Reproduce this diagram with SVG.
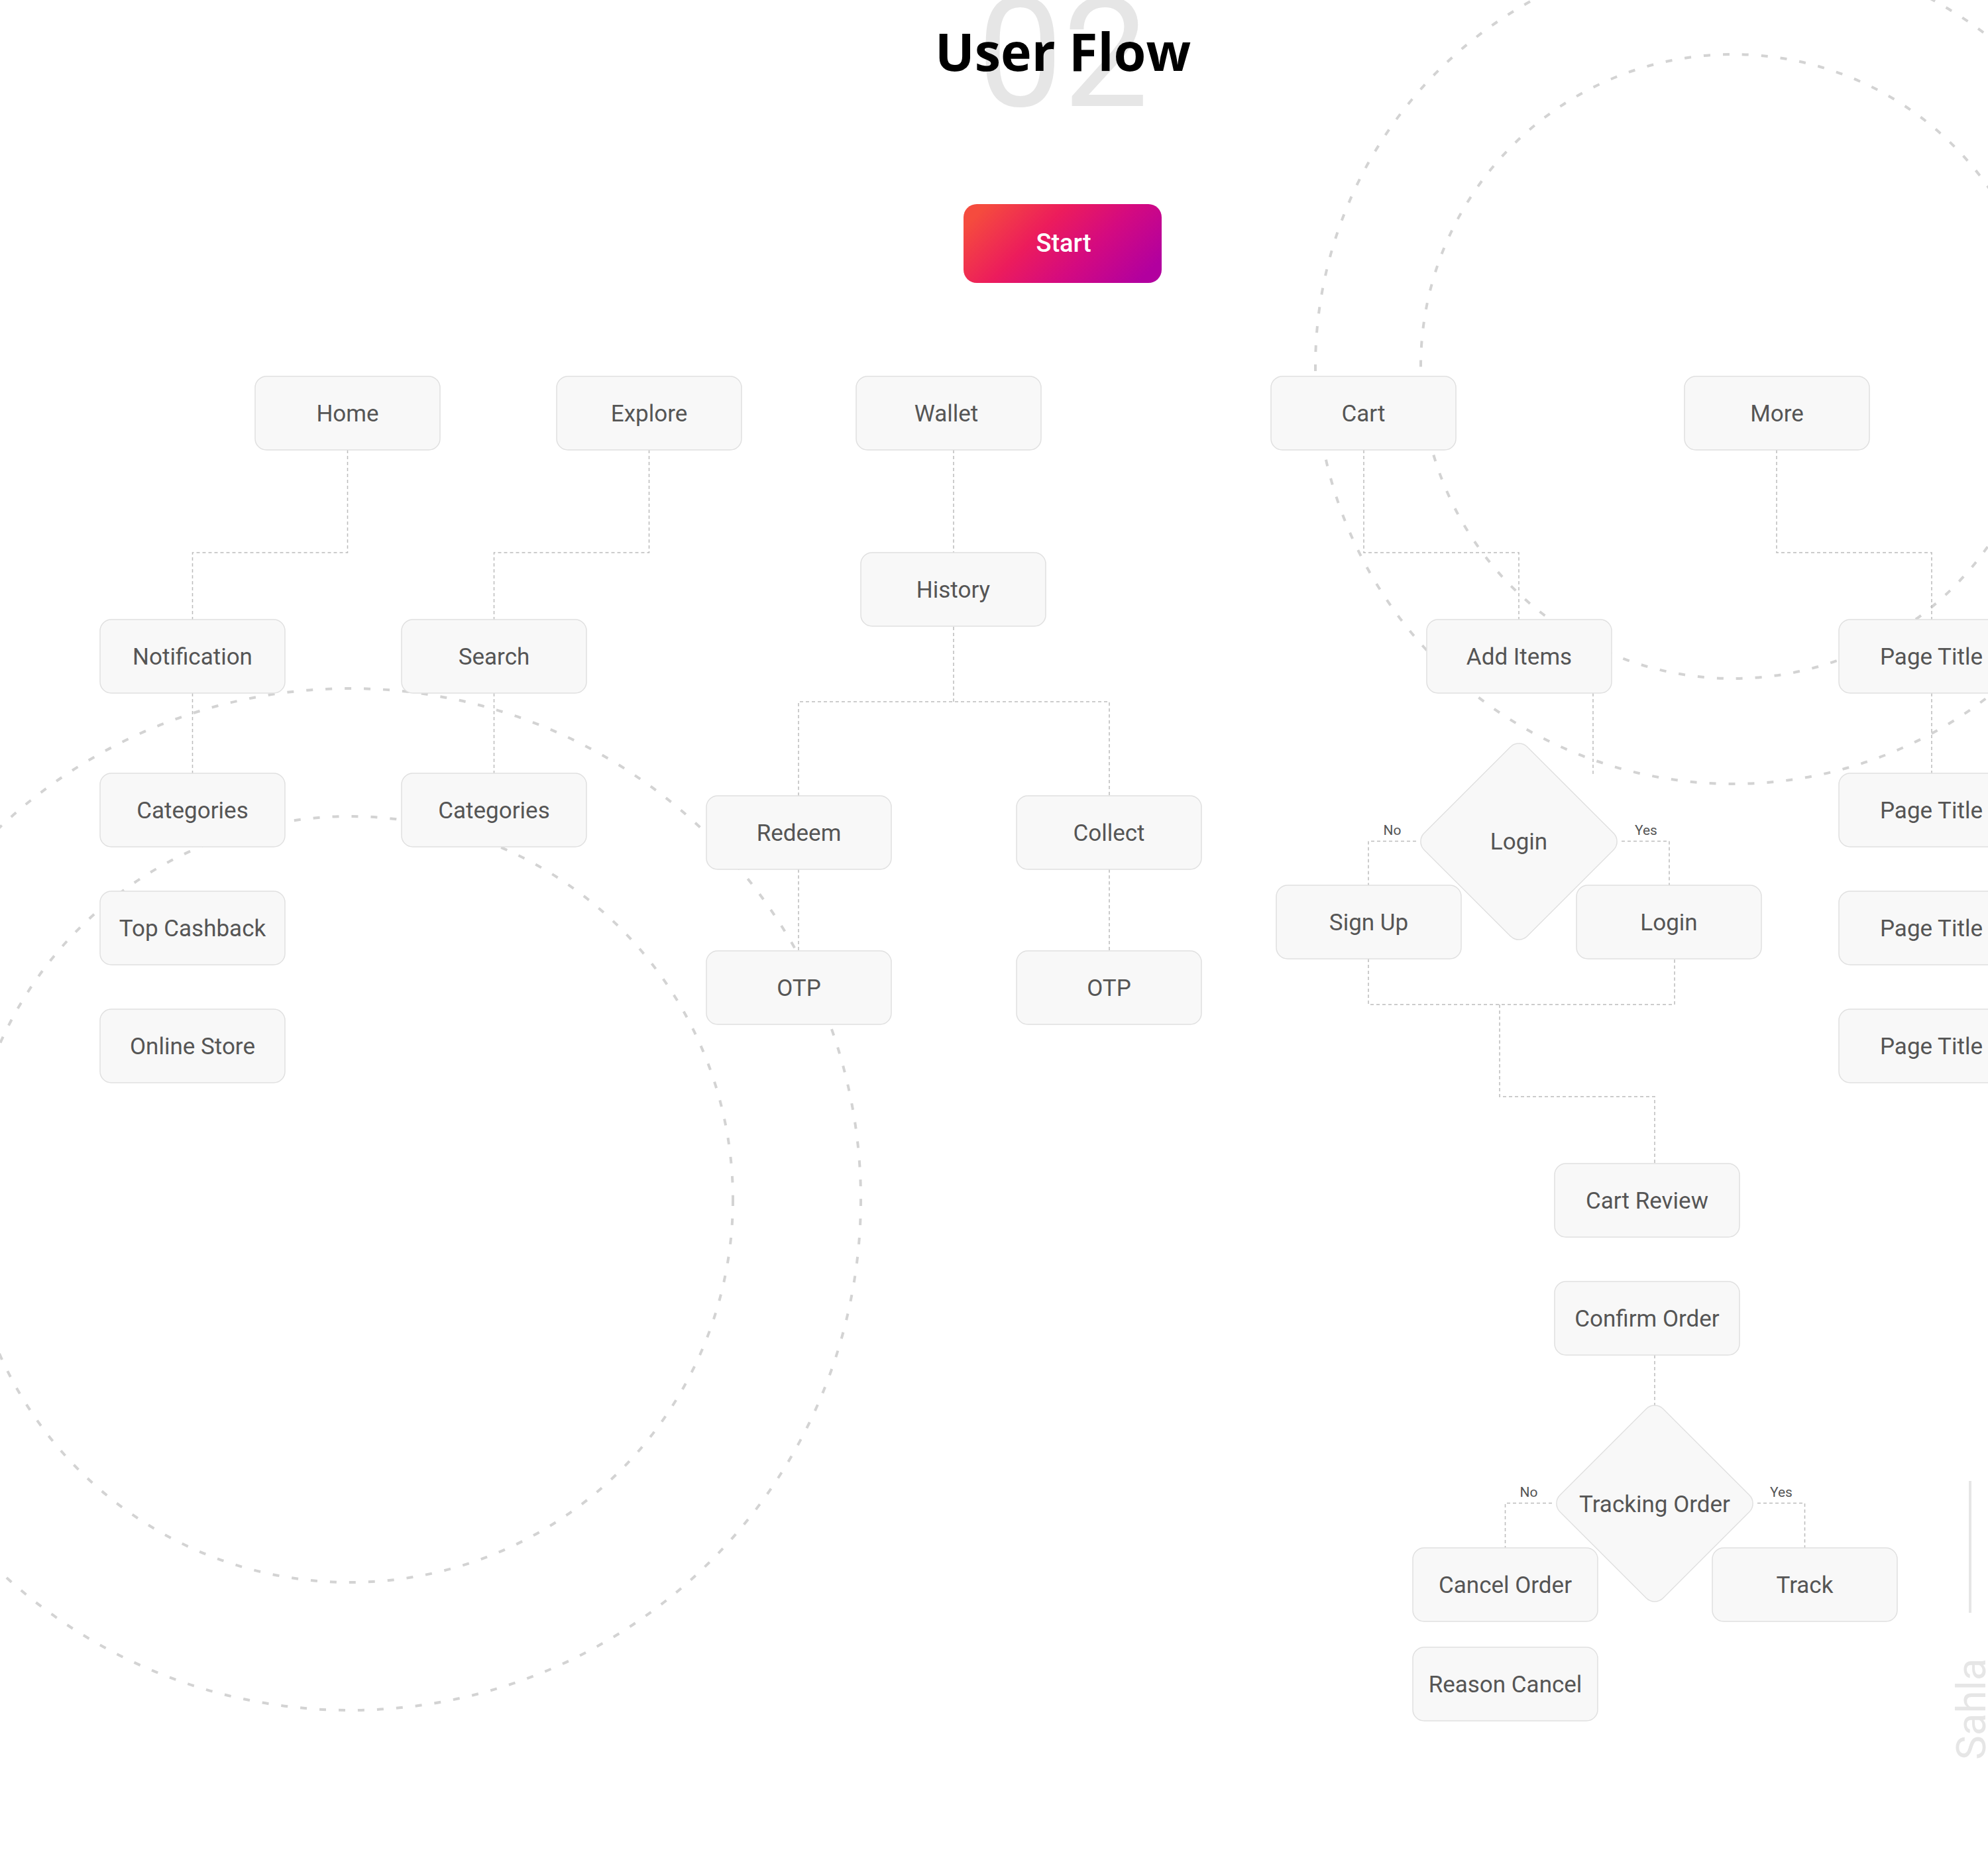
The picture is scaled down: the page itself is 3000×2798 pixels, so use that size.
<svg xmlns="http://www.w3.org/2000/svg" width="3000" height="2798" viewBox="0 0 3000 2798">
<style>
.bg{fill:none;stroke:#d3d3d3;stroke-width:4;stroke-dasharray:10 19}
.cn{fill:none;stroke:#bcbcbc;stroke-width:1.5;stroke-dasharray:5 4}
.box{fill:#f8f8f8;stroke:#e0e0e0;stroke-width:1.5}
.lbl{font-family:Roboto,"Liberation Sans",sans-serif;font-size:35px;fill:#555555;text-anchor:middle}
.yn{font-family:Roboto,"Liberation Sans",sans-serif;font-size:21px;fill:#555555;text-anchor:middle}
</style>
<defs>
<linearGradient id="startGrad" x1="0" y1="0.3" x2="1" y2="0.7">
<stop offset="0" stop-color="#f54b3e"/>
<stop offset="0.35" stop-color="#ec1c5c"/>
<stop offset="0.65" stop-color="#d40a80"/>
<stop offset="1" stop-color="#b2009f"/>
</linearGradient>
<rect id="nb" width="279" height="111" rx="17"/>
</defs>
<rect width="3000" height="2798" fill="#ffffff"/>

<g id="background">
<circle class="bg" cx="2615" cy="553" r="471"/>
<circle class="bg" cx="2615" cy="553" r="630"/>
<circle class="bg" cx="528" cy="1810" r="578"/>
<circle class="bg" cx="528" cy="1810" r="771"/>
<text x="1604" y="160" font-family="Roboto,'Liberation Sans',sans-serif" font-weight="400" font-size="230" fill="#e6e6e6" text-anchor="middle">02</text>
<text x="1604" y="107" font-family="'Open Sans','DejaVu Sans',sans-serif" font-weight="700" font-size="79" fill="#000000" text-anchor="middle">User Flow</text>
<line x1="2973" y1="2235" x2="2973" y2="2434" stroke="#e6e6e6" stroke-width="4"/>
<text transform="translate(2996,2656) rotate(-90)" font-family="Roboto,'Liberation Sans',sans-serif" font-weight="400" font-size="62" fill="#e6e6e6">Sahla</text>
</g>

<g id="connectors">
<path class="cn" d="M524.5 679V834H290.5V935"/>
<path class="cn" d="M979.5 679V834H745.5V935"/>
<path class="cn" d="M290.5 1046V1167"/>
<path class="cn" d="M745.5 1046V1167"/>
<path class="cn" d="M1439 679V834"/>
<path class="cn" d="M1439 946V1059"/>
<path class="cn" d="M1205 1201V1059H1674V1201"/>
<path class="cn" d="M1205 1312V1435"/>
<path class="cn" d="M1674 1312V1435"/>
<path class="cn" d="M2058 679V834H2292V935"/>
<path class="cn" d="M2681 679V834H2915V935"/>
<path class="cn" d="M2915 1046V1167"/>
<path class="cn" d="M2404 1046V1168"/>
<path class="cn" d="M2137 1269.5H2065V1336"/>
<path class="cn" d="M2447 1269.5H2519V1336"/>
<path class="cn" d="M2065 1447V1516H2527V1447"/>
<path class="cn" d="M2263 1516V1655H2497V1756"/>
<path class="cn" d="M2497 2045V2122"/>
<path class="cn" d="M2342 2268.5H2271.5V2336"/>
<path class="cn" d="M2652 2268.5H2723.5V2336"/>
<text class="yn" x="2101" y="1260">No</text>
<text class="yn" x="2484" y="1260">Yes</text>
<text class="yn" x="2307" y="2259">No</text>
<text class="yn" x="2688" y="2259">Yes</text>
</g>

<g id="start">
<rect x="1454" y="308" width="299" height="119" rx="20" fill="url(#startGrad)"/>
<text x="1605" y="380" font-family="Roboto,'Liberation Sans',sans-serif" font-weight="500" font-size="38" fill="#ffffff" text-anchor="middle">Start</text>
</g>

<g id="home"><use href="#nb" x="385" y="568" class="box"/><text class="lbl" x="524.5" y="635.5">Home</text></g>
<g id="explore"><use href="#nb" x="840" y="568" class="box"/><text class="lbl" x="979.5" y="635.5">Explore</text></g>
<g id="wallet"><use href="#nb" x="1292" y="568" class="box"/><text class="lbl" x="1428" y="635.5">Wallet</text></g>
<g id="cart"><use href="#nb" x="1918" y="568" class="box"/><text class="lbl" x="2057.5" y="635.5">Cart</text></g>
<g id="more"><use href="#nb" x="2542" y="568" class="box"/><text class="lbl" x="2681.5" y="635.5">More</text></g>
<g id="history"><use href="#nb" x="1299" y="834" class="box"/><text class="lbl" x="1438.5" y="901.5">History</text></g>
<g id="notification"><use href="#nb" x="151" y="935" class="box"/><text class="lbl" x="290.5" y="1002.5">Notification</text></g>
<g id="search"><use href="#nb" x="606" y="935" class="box"/><text class="lbl" x="745.5" y="1002.5">Search</text></g>
<g id="add-items"><use href="#nb" x="2153" y="935" class="box"/><text class="lbl" x="2292.5" y="1002.5">Add Items</text></g>
<g id="page-title-1"><use href="#nb" x="2775" y="935" class="box"/><text class="lbl" x="2914.5" y="1002.5">Page Title</text></g>
<g id="categories-1"><use href="#nb" x="151" y="1167" class="box"/><text class="lbl" x="290.5" y="1234.5">Categories</text></g>
<g id="categories-2"><use href="#nb" x="606" y="1167" class="box"/><text class="lbl" x="745.5" y="1234.5">Categories</text></g>
<g id="page-title-2"><use href="#nb" x="2775" y="1167" class="box"/><text class="lbl" x="2914.5" y="1234.5">Page Title</text></g>
<g id="redeem"><use href="#nb" x="1066" y="1201" class="box"/><text class="lbl" x="1205.5" y="1268.5">Redeem</text></g>
<g id="collect"><use href="#nb" x="1534" y="1201" class="box"/><text class="lbl" x="1673.5" y="1268.5">Collect</text></g>
<g id="login-decision"><rect x="-110" y="-110" width="220" height="220" rx="18" transform="translate(2292,1270) rotate(45)" class="box"/><text class="lbl" x="2292" y="1282">Login</text></g>
<g id="sign-up"><use href="#nb" x="1926" y="1336" class="box"/><text class="lbl" x="2065.5" y="1403.5">Sign Up</text></g>
<g id="login"><use href="#nb" x="2379" y="1336" class="box"/><text class="lbl" x="2518.5" y="1403.5">Login</text></g>
<g id="top-cashback"><use href="#nb" x="151" y="1345" class="box"/><text class="lbl" x="290.5" y="1412.5">Top Cashback</text></g>
<g id="page-title-3"><use href="#nb" x="2775" y="1345" class="box"/><text class="lbl" x="2914.5" y="1412.5">Page Title</text></g>
<g id="otp-1"><use href="#nb" x="1066" y="1435" class="box"/><text class="lbl" x="1205.5" y="1502.5">OTP</text></g>
<g id="otp-2"><use href="#nb" x="1534" y="1435" class="box"/><text class="lbl" x="1673.5" y="1502.5">OTP</text></g>
<g id="online-store"><use href="#nb" x="151" y="1523" class="box"/><text class="lbl" x="290.5" y="1590.5">Online Store</text></g>
<g id="page-title-4"><use href="#nb" x="2775" y="1523" class="box"/><text class="lbl" x="2914.5" y="1590.5">Page Title</text></g>
<g id="cart-review"><use href="#nb" x="2346" y="1756" class="box"/><text class="lbl" x="2485.5" y="1823.5">Cart Review</text></g>
<g id="confirm-order"><use href="#nb" x="2346" y="1934" class="box"/><text class="lbl" x="2485.5" y="2001.5">Confirm Order</text></g>
<g id="tracking-order"><rect x="-110" y="-110" width="220" height="220" rx="18" transform="translate(2497,2269) rotate(45)" class="box"/><text class="lbl" x="2497" y="2282">Tracking Order</text></g>
<g id="cancel-order"><use href="#nb" x="2132" y="2336" class="box"/><text class="lbl" x="2271.5" y="2403.5">Cancel Order</text></g>
<g id="track"><use href="#nb" x="2584" y="2336" class="box"/><text class="lbl" x="2723.5" y="2403.5">Track</text></g>
<g id="reason-cancel"><use href="#nb" x="2132" y="2486" class="box"/><text class="lbl" x="2271.5" y="2553.5">Reason Cancel</text></g>
</svg>
